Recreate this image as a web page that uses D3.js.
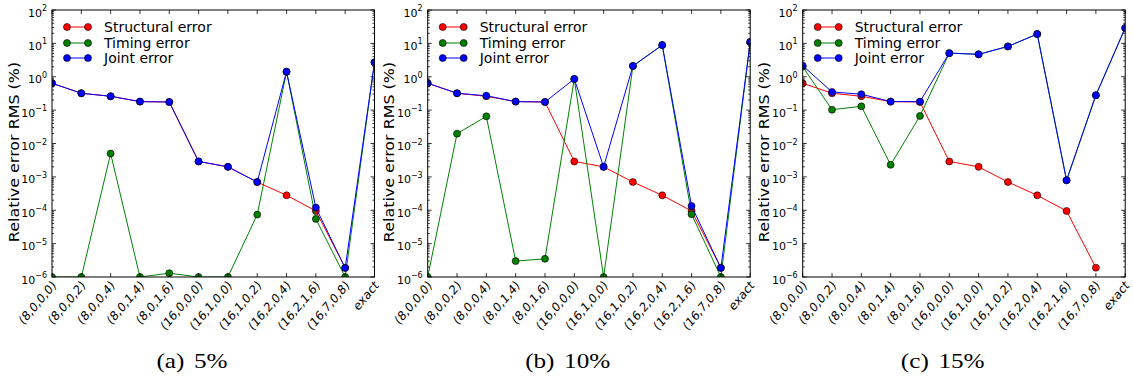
<!DOCTYPE html>
<html>
  <head>
    <style>
      body {
        margin: 0;
        background: #fff;
      }
      .tick-label, .legend-text, .y-title {
        font-family: "DejaVu Sans", sans-serif;
        fill: #000;
      }
      .caption {
        font-family: "Liberation Serif", serif;
        fill: #000;
      }
    </style>
  </head>
  <body>
    <script src="https://d3js.org/d3.v7.min.js"></script>
    <script>
      // model structures on the x axis
      var categories = ["(8,0,0,0)", "(8,0,0,2)", "(8,0,0,4)", "(8,0,1,4)", "(8,0,1,6)",
                        "(16,0,0,0)", "(16,1,0,0)", "(16,1,0,2)", "(16,2,0,4)", "(16,2,1,6)",
                        "(16,7,0,8)", "exact"];
      var seriesNames = ["Structural error", "Timing error", "Joint error"];
      var seriesColors = ["#ff0000", "#008000", "#0000ff"];
      var yTickExponents = [-6, -5, -4, -3, -2, -1, 0, 1, 2];
      var captionLetters = ["(a)", "(b)", "(c)"];
      var captionLevels = ["5%", "10%", "15%"];

      // structural error does not depend on the noise level (no value for "exact")
      var structural = [0.64, 0.32, 0.26, 0.18, 0.175, 0.0029, 0.002, 0.0007, 0.00028, 0.000095, 0.0000019, null];

      var timing5 = [1e-6, 1e-6, 0.005, 1e-6, 1.3e-6, 1e-6, 1e-6, 0.000074, 1.4, 0.000055, 1e-6, 2.7];
      var joint5 = [0.64, 0.32, 0.26, 0.18, 0.175, 0.0029, 0.002, 0.0007, 1.42, 0.00012, 1.86e-6, 2.7];

      var timing10 = [1e-6, 0.0197, 0.065, 3.0e-6, 3.5e-6, 0.86, 1e-6, 2.1, 8.9, 0.000076, 1e-6, 11];
      var joint10 = [0.64, 0.32, 0.27, 0.18, 0.175, 0.86, 0.002, 2.1, 8.9, 0.000134, 1.86e-6, 11];

      var timing15 = [2.0, 0.103, 0.13, 0.0023, 0.067, 5.1, 4.7, 8.1, 19, 0.00079, 0.28, 29];
      var joint15 = [2.15, 0.35, 0.30, 0.18, 0.18, 5.1, 4.7, 8.1, 19, 0.00079, 0.28, 29];

      var panels = [
        [structural, timing5, joint5],
        [structural, timing10, joint10],
        [structural, timing15, joint15]
      ];

      var W = 1133, H = 381;
      var plotLefts = [52, 427.7, 802.7];
      var plotW = 322.5;
      var plotTop = 10, plotBottom = 277;
      var stretchY = 1.18; // the original figure is a bit taller than wide

      var svg = d3.select("body").append("svg")
        .attr("width", W)
        .attr("height", H);

      var y = d3.scaleLog().domain([1e-6, 100]).range([plotBottom, plotTop]);

      panels.forEach(function(series, p) {
        var L = plotLefts[p], R = L + plotW;
        var x = d3.scalePoint().domain(categories).range([L, R]).padding(0);
        var g = svg.append("g");

        var clipId = "clip" + p;
        svg.append("clipPath").attr("id", clipId)
          .append("rect")
          .attr("x", L).attr("y", plotTop)
          .attr("width", plotW).attr("height", plotBottom - plotTop);

        // data lines and markers
        var plot = g.append("g").attr("clip-path", "url(#" + clipId + ")");
        var line = d3.line()
          .defined(d => d[1] != null)
          .x(d => x(d[0]))
          .y(d => y(d[1]));

        series.forEach(function(vals, s) {
          var pts = categories.map((c, i) => [c, vals[i]]);
          plot.append("path")
            .datum(pts)
            .attr("fill", "none")
            .attr("stroke", seriesColors[s])
            .attr("stroke-width", 1)
            .attr("d", line);
          plot.selectAll(null)
            .data(pts.filter(d => d[1] != null))
            .enter().append("circle")
            .attr("cx", d => x(d[0]))
            .attr("cy", d => y(d[1]))
            .attr("r", 3.5)
            .attr("fill", seriesColors[s])
            .attr("stroke", "#000")
            .attr("stroke-width", 0.6);
        });

        // frame
        g.append("rect")
          .attr("x", L).attr("y", plotTop)
          .attr("width", plotW).attr("height", plotBottom - plotTop)
          .attr("fill", "none")
          .attr("stroke", "#000")
          .attr("stroke-width", 1);

        // x ticks (inward, bottom and top)
        var ticks = g.append("g").attr("stroke", "#000").attr("stroke-width", 0.8);
        categories.forEach(function(c) {
          ticks.append("line").attr("x1", x(c)).attr("x2", x(c)).attr("y1", plotBottom).attr("y2", plotBottom - 4);
          ticks.append("line").attr("x1", x(c)).attr("x2", x(c)).attr("y1", plotTop).attr("y2", plotTop + 4);
        });

        // y ticks, major + minor, both sides
        yTickExponents.forEach(function(e) {
          var yy = y(Math.pow(10, e));
          ticks.append("line").attr("x1", L).attr("x2", L + 4).attr("y1", yy).attr("y2", yy);
          ticks.append("line").attr("x1", R).attr("x2", R - 4).attr("y1", yy).attr("y2", yy);
          if (e < 2) {
            for (var m = 2; m <= 9; m++) {
              var ym = y(m * Math.pow(10, e));
              ticks.append("line").attr("x1", L).attr("x2", L + 2).attr("y1", ym).attr("y2", ym);
              ticks.append("line").attr("x1", R).attr("x2", R - 2).attr("y1", ym).attr("y2", ym);
            }
          }
        });

        // y tick labels 10^e
        yTickExponents.forEach(function(e) {
          var t = g.append("text")
            .attr("class", "tick-label")
            .attr("x", L - 5)
            .attr("y", y(Math.pow(10, e)) + 6.5)
            .attr("text-anchor", "end")
            .style("font-size", "11px");
          t.append("tspan").text("10");
          t.append("tspan")
            .attr("dy", -5.5)
            .style("font-size", "8px")
            .text(e < 0 ? "\u2212" + (-e) : String(e));
        });

        // x tick labels, rotated
        categories.forEach(function(c) {
          g.append("text")
            .attr("class", "tick-label")
            .attr("transform", "translate(" + (x(c) + 2) + "," + (plotBottom + 6) + ") scale(1," + stretchY + ") rotate(-45)")
            .attr("text-anchor", "end")
            .attr("dy", "0.35em")
            .style("font-size", "11px")
            .text(c);
        });

        // y axis title
        g.append("text")
          .attr("class", "y-title")
          .attr("transform", "translate(" + (L - 38) + ",152) rotate(-90) scale(" + stretchY + ",1)")
          .attr("text-anchor", "middle")
          .attr("dy", "0.35em")
          .style("font-size", "13.5px")
          .text("Relative error RMS (%)");

        // legend
        var legY = [27, 43, 58];
        seriesNames.forEach(function(name, s) {
          var lg = g.append("g");
          lg.append("line")
            .attr("x1", L + 15).attr("x2", L + 36)
            .attr("y1", legY[s]).attr("y2", legY[s])
            .attr("stroke", seriesColors[s]).attr("stroke-width", 1);
          [L + 15, L + 36].forEach(function(cx) {
            lg.append("circle")
              .attr("cx", cx).attr("cy", legY[s]).attr("r", 3.5)
              .attr("fill", seriesColors[s])
              .attr("stroke", "#000").attr("stroke-width", 0.6);
          });
          lg.append("text")
            .attr("class", "legend-text")
            .attr("x", L + 52)
            .attr("y", legY[s])
            .attr("dy", "0.36em")
            .style("font-size", "14px")
            .text(name);
        });

        // caption
        var cap = svg.append("text")
          .attr("class", "caption")
          .attr("transform", "translate(" + (L + 140) + ",368) scale(1.2,1)")
          .attr("text-anchor", "middle")
          .style("font-size", "21px");
        cap.append("tspan").text(captionLetters[p]);
        cap.append("tspan").attr("dx", 8).text(captionLevels[p]);
      });
    </script>
  </body>
</html>
